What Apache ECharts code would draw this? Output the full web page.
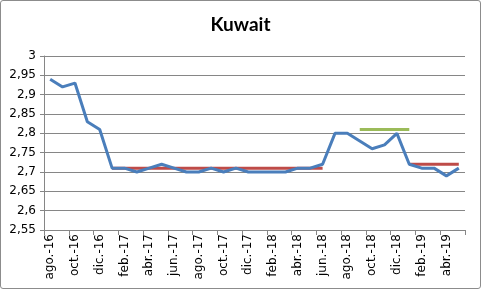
<!DOCTYPE html>
<html><head><meta charset="utf-8">
<script src="https://cdn.jsdelivr.net/npm/echarts@6/dist/echarts.min.js"></script>
<style>
html,body{margin:0;padding:0;background:#fff;}
#c{width:481px;height:289px;box-sizing:border-box;border:1px solid #8c8c8c;border-radius:3px;}
</style></head>
<body><div id="c"></div>
<script>
const categories = ["ago.-16","sep.-16","oct.-16","nov.-16","dic.-16","ene.-17","feb.-17","mar.-17","abr.-17","may.-17","jun.-17","jul.-17","ago.-17","sep.-17","oct.-17","nov.-17","dic.-17","ene.-18","feb.-18","mar.-18","abr.-18","may.-18","jun.-18","jul.-18","ago.-18","sep.-18","oct.-18","nov.-18","dic.-18","ene.-19","feb.-19","mar.-19","abr.-19","may.-19"];
const kuwait = [2.94,2.92,2.93,2.83,2.81,2.71,2.71,2.70,2.71,2.72,2.71,2.70,2.70,2.71,2.70,2.71,2.70,2.70,2.70,2.70,2.71,2.71,2.72,2.80,2.80,2.78,2.76,2.77,2.80,2.72,2.71,2.71,2.69,2.71];
const avg1 = [null,null,null,null,null,2.71,2.71,2.71,2.71,2.71,2.71,2.71,2.71,2.71,2.71,2.71,2.71,2.71,2.71,2.71,2.71,2.71,2.71,null,null,null,null,null,null,null,null,null,null,null];
const avg2 = [null,null,null,null,null,null,null,null,null,null,null,null,null,null,null,null,null,null,null,null,null,null,null,null,null,2.81,2.81,2.81,2.81,2.81,null,null,null,null];
const avg3 = [null,null,null,null,null,null,null,null,null,null,null,null,null,null,null,null,null,null,null,null,null,null,null,null,null,null,null,null,null,2.72,2.72,2.72,2.72,2.72];
const yTicks = [2.55,2.6,2.65,2.7,2.75,2.8,2.85,2.9,2.95,3];

const chart = echarts.init(document.getElementById('c'), null, {renderer:'canvas'});
const lblFont = {fontFamily:'DejaVu Sans', fontSize:12, color:'#000'};
chart.setOption({
  animation:false,
  title:{text:'Kuwait', left:'center', top:9, textStyle:{fontFamily:'Lato', fontWeight:'bold', fontSize:19, color:'#000'}},
  grid:{left:43, right:15, top:55, bottom:58, containLabel:false},
  xAxis:{type:'category', data:categories, boundaryGap:true,
    axisLine:{lineStyle:{color:'#868686', width:1}},
    axisTick:{show:true, interval:1, length:5, lineStyle:{color:'#868686'}},
    axisLabel:Object.assign({interval:1, rotate:90, margin:4}, lblFont),
    splitLine:{show:false}},
  yAxis:{type:'value', min:yTicks[0], max:yTicks[yTicks.length-1], interval:0.05,
    axisLine:{show:true, lineStyle:{color:'#868686', width:1}},
    axisTick:{show:true, length:4, lineStyle:{color:'#868686'}},
    axisLabel:Object.assign({margin:8, formatter:v=>{
      const t = yTicks.find(x=>Math.abs(x-v)<1e-6);
      return (t!==undefined?t:v).toString().replace('.',',');}}, lblFont),
    splitLine:{show:true, lineStyle:{color:'#868686', width:1}}},
  series:[
    {type:'line', data:avg1, symbol:'none', z:2, lineStyle:{color:'#BE4B48', width:3}},
    {type:'line', data:avg2, symbol:'none', z:2, lineStyle:{color:'#9BBB59', width:3}},
    {type:'line', data:avg3, symbol:'none', z:2, lineStyle:{color:'#BE4B48', width:3}},
    {type:'line', data:kuwait, symbol:'none', z:3, lineStyle:{color:'#4A7EBB', width:3}}
  ]
});
</script></body></html>
